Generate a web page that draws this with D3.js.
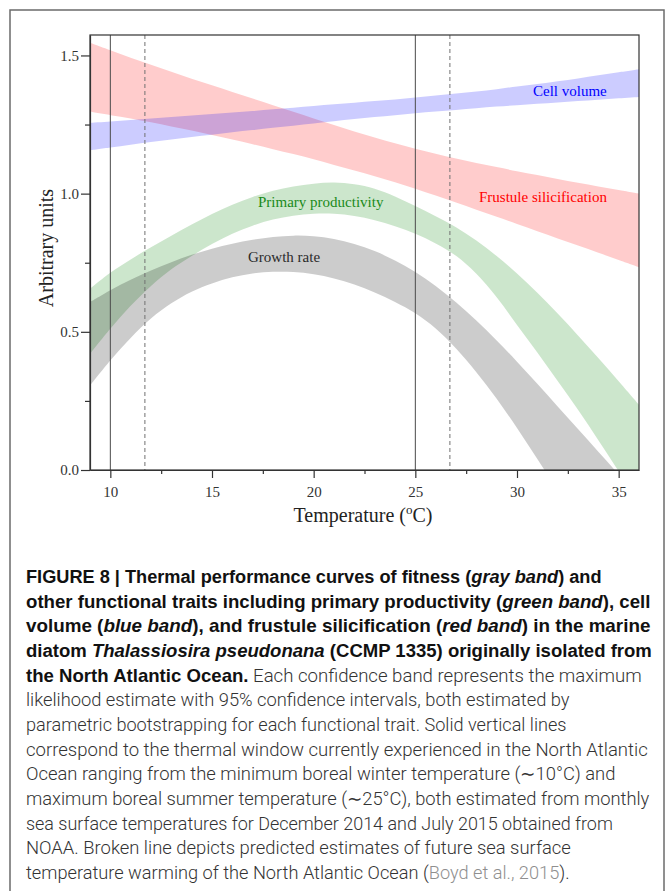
<!DOCTYPE html>
<html><head><meta charset="utf-8">
<script src="https://cdn.jsdelivr.net/npm/d3@7"></script>
<style>body{margin:0;background:#fff} svg{display:block}</style>
</head><body><svg id="c" width="668" height="891"></svg>
<script>
// ---- data ----
const temps = [9, 10, 11, 12, 13, 14, 15, 16, 17, 18, 19, 20, 21, 22, 23, 24, 25, 26, 27, 28, 29, 30, 31, 32, 33, 34, 35, 36];
const growthUpper = [0.607, 0.650, 0.688, 0.722, 0.752, 0.779, 0.801, 0.819, 0.833, 0.843, 0.848, 0.846, 0.836, 0.818, 0.792, 0.758, 0.716, 0.666, 0.607, 0.541, 0.469, 0.392, 0.312, 0.230, 0.148, 0.066, -0.016, -0.100];
const growthLower = [0.305, 0.396, 0.478, 0.548, 0.603, 0.645, 0.675, 0.697, 0.711, 0.717, 0.716, 0.708, 0.693, 0.671, 0.642, 0.608, 0.567, 0.512, 0.440, 0.354, 0.258, 0.152, 0.040, -0.075, -0.195, -0.320, -0.450, -0.585];
const productivityUpper = [0.656, 0.714, 0.762, 0.806, 0.848, 0.888, 0.926, 0.960, 0.988, 1.010, 1.026, 1.036, 1.040, 1.034, 1.018, 0.990, 0.955, 0.918, 0.878, 0.830, 0.774, 0.711, 0.641, 0.566, 0.487, 0.405, 0.321, 0.236];
const productivityLower = [0.420, 0.511, 0.594, 0.666, 0.726, 0.774, 0.818, 0.855, 0.884, 0.906, 0.920, 0.927, 0.927, 0.919, 0.904, 0.882, 0.855, 0.820, 0.775, 0.710, 0.625, 0.525, 0.425, 0.322, 0.218, 0.108, -0.005, -0.120];
const volumeUpper = [1.256, 1.261, 1.266, 1.272, 1.277, 1.283, 1.288, 1.294, 1.299, 1.305, 1.311, 1.317, 1.323, 1.329, 1.335, 1.341, 1.348, 1.355, 1.362, 1.370, 1.378, 1.388, 1.397, 1.407, 1.417, 1.428, 1.439, 1.450];
const volumeLower = [1.157, 1.167, 1.177, 1.187, 1.196, 1.205, 1.213, 1.222, 1.230, 1.238, 1.246, 1.254, 1.262, 1.270, 1.277, 1.284, 1.291, 1.297, 1.303, 1.309, 1.315, 1.320, 1.325, 1.330, 1.335, 1.340, 1.345, 1.350];
const silicUpper = [1.546, 1.519, 1.492, 1.466, 1.441, 1.416, 1.392, 1.368, 1.344, 1.320, 1.296, 1.272, 1.248, 1.225, 1.203, 1.182, 1.162, 1.144, 1.127, 1.111, 1.096, 1.081, 1.067, 1.053, 1.039, 1.026, 1.013, 1.000];
const silicLower = [1.296, 1.284, 1.272, 1.258, 1.243, 1.228, 1.212, 1.196, 1.179, 1.161, 1.143, 1.124, 1.104, 1.084, 1.063, 1.041, 1.018, 0.993, 0.968, 0.942, 0.916, 0.890, 0.864, 0.838, 0.812, 0.786, 0.760, 0.734];
const bandNames = ["Frustule silicification", "Cell volume", "Primary productivity", "Growth rate"];
const solidLines = [10, 25];
const dashedLines = [11.7, 26.7];
const xTicks = [10, 15, 20, 25, 30, 35];
const xMinorTicks = [12.5, 17.5, 22.5, 27.5, 32.5];
const yTicks = [0, 0.5, 1.0, 1.5];
const yMinorTicks = [0.25, 0.75, 1.25];

const captionLines = [
  [["b","FIGURE 8 | Thermal performance curves of fitness ("],["bi","gray band"],["b",") and"]],
  [["b","other functional traits including primary productivity ("],["bi","green band"],["b","), cell"]],
  [["b","volume ("],["bi","blue band"],["b","), and frustule silicification ("],["bi","red band"],["b",") in the marine"]],
  [["b","diatom "],["bi","Thalassiosira pseudonana"],["b"," (CCMP 1335) originally isolated from"]],
  [["b","the North Atlantic Ocean."],["n"," Each confidence band represents the maximum"]],
  [["n","likelihood estimate with 95% confidence intervals, both estimated by"]],
  [["n","parametric bootstrapping for each functional trait. Solid vertical lines"]],
  [["n","correspond to the thermal window currently experienced in the North Atlantic"]],
  [["n","Ocean ranging from the minimum boreal winter temperature (\u223C10\u00B0C) and"]],
  [["n","maximum boreal summer temperature (\u223C25\u00B0C), both estimated from monthly"]],
  [["n","sea surface temperatures for December 2014 and July 2015 obtained from"]],
  [["n","NOAA. Broken line depicts predicted estimates of future sea surface"]],
  [["n","temperature warming of the North Atlantic Ocean ("],["l","Boyd et al., 2015"],["n",")."]]
];
const captionLineEnds = [602, 651, 651, 652, 642, 570, 567, 648, 616, 650, 613, 571, 570];

// ---- drawing ----
const svg = d3.select('#c');
svg.append('rect').attr('x',10).attr('y',10).attr('width',654).attr('height',900)
  .attr('fill','none').attr('stroke','#6b6b6b').attr('stroke-width',1.5);

const x = d3.scaleLinear().domain([9, 36]).range([90, 639]);
const y = d3.scaleLinear().domain([0, 1.574]).range([470, 35]);

svg.append('clipPath').attr('id','plotclip').append('rect')
  .attr('x',90).attr('y',35).attr('width',549).attr('height',435);

const bands = [
  {lo: silicLower, hi: silicUpper, fill: 'rgba(255,0,0,0.2)'},
  {lo: volumeLower, hi: volumeUpper, fill: 'rgba(0,0,255,0.2)'},
  {lo: productivityLower, hi: productivityUpper, fill: 'rgba(0,128,0,0.2)'},
  {lo: growthLower, hi: growthUpper, fill: 'rgba(0,0,0,0.2)'}
];
const area = d3.area().curve(d3.curveCatmullRom)
  .x(d => x(d.t)).y0(d => y(d.lo)).y1(d => y(d.hi));
const gBands = svg.append('g').attr('clip-path','url(#plotclip)');
bands.forEach(b => {
  const rows = temps.map((t,i) => ({t, lo: b.lo[i], hi: b.hi[i]}));
  gBands.append('path').datum(rows).attr('d', area).attr('fill', b.fill);
});

// vertical reference lines
svg.selectAll('line.solid').data(solidLines).enter().append('line')
  .attr('x1', d => x(d)).attr('x2', d => x(d)).attr('y1', 35).attr('y2', 470)
  .attr('stroke','#4a4a4a').attr('stroke-width',1);
svg.selectAll('line.dash').data(dashedLines).enter().append('line')
  .attr('x1', d => x(d)).attr('x2', d => x(d)).attr('y1', 35).attr('y2', 470)
  .attr('stroke','#707070').attr('stroke-width',1).attr('stroke-dasharray','4,3');

// frame
svg.append('rect').attr('x',90).attr('y',35).attr('width',549).attr('height',435)
  .attr('fill','none').attr('stroke','#333').attr('stroke-width',1.2);

const serif = '"Liberation Serif", "Times New Roman", serif';
function styleAxis(g){
  g.selectAll('path').attr('stroke','#333').attr('stroke-width',1.2);
  g.selectAll('line').attr('stroke','#333').attr('stroke-width',1.2);
  g.selectAll('text').attr('font-family', serif).attr('font-size',15).attr('fill','#333');
}
const gx = svg.append('g').attr('transform','translate(0,470)')
  .call(d3.axisBottom(x).tickValues(xTicks).tickSize(8).tickSizeOuter(0).tickPadding(8).tickFormat(d3.format('d')));
styleAxis(gx);
const gxm = svg.append('g').attr('transform','translate(0,470)')
  .call(d3.axisBottom(x).tickValues(xMinorTicks).tickSize(4).tickSizeOuter(0).tickFormat(''));
styleAxis(gxm); gxm.select('path').remove();

const gy = svg.append('g').attr('transform','translate(90,0)')
  .call(d3.axisLeft(y).tickValues(yTicks).tickSize(9).tickSizeOuter(0).tickPadding(2).tickFormat(d3.format('.1f')));
styleAxis(gy);
const gym = svg.append('g').attr('transform','translate(90,0)')
  .call(d3.axisLeft(y).tickValues(yMinorTicks).tickSize(5).tickSizeOuter(0).tickFormat(''));
styleAxis(gym); gym.select('path').remove();

// axis titles
svg.append('text').attr('transform','translate(53,248) rotate(-90)')
  .attr('text-anchor','middle').attr('font-family',serif).attr('font-size',20).attr('fill','#222')
  .text('Arbitrary units');
const xt = svg.append('text').attr('x',363).attr('y',522).attr('text-anchor','middle')
  .attr('font-family',serif).attr('font-size',20).attr('fill','#222');
xt.append('tspan').text('Temperature (');
xt.append('tspan').attr('font-size',13).attr('dy',-8).text('o');
xt.append('tspan').attr('dy',8).text('C)');

// band labels
const labelSpecs = [
  {name: bandNames[0], x: 479, y: 202, color: '#ff0000'},
  {name: bandNames[1], x: 533, y: 96, color: '#0000ff'},
  {name: bandNames[2], x: 258, y: 207, color: '#1a8a1a'},
  {name: bandNames[3], x: 248, y: 262, color: '#2a2a2a'}
];
svg.selectAll('text.lab').data(labelSpecs).enter().append('text')
  .attr('x', d => d.x).attr('y', d => d.y).attr('fill', d => d.color)
  .attr('font-family', serif).attr('font-size', 15).text(d => d.name);

// caption
const cap = svg.append('g');
const capStyles = {
  b: {w: 700, s: 'normal', f: '#111', fam: '"Liberation Sans", Arial, sans-serif'},
  bi: {w: 700, s: 'italic', f: '#111', fam: '"Liberation Sans", Arial, sans-serif'},
  n: {w: 300, s: 'normal', f: '#333', fam: 'Roboto, "Liberation Sans", sans-serif'},
  l: {w: 300, s: 'normal', f: '#8f8f8f', fam: 'Roboto, "Liberation Sans", sans-serif'}
};
captionLines.forEach((segs, i) => {
  const yb = 583 + i * 24.67;
  const t = cap.append('text').attr('font-size',18);
  segs.forEach(([k, s]) => {
    const st = capStyles[k];
    t.append('tspan').attr('font-family', st.fam).attr('font-weight', st.w)
      .attr('font-style', st.s).attr('fill', st.f).text(s);
  });
  const w = t.node().getComputedTextLength();
  const target = captionLineEnds[i] - 26;
  t.attr('transform', `translate(26,${yb}) scale(${target / w},1)`);
});
</script></body></html>
